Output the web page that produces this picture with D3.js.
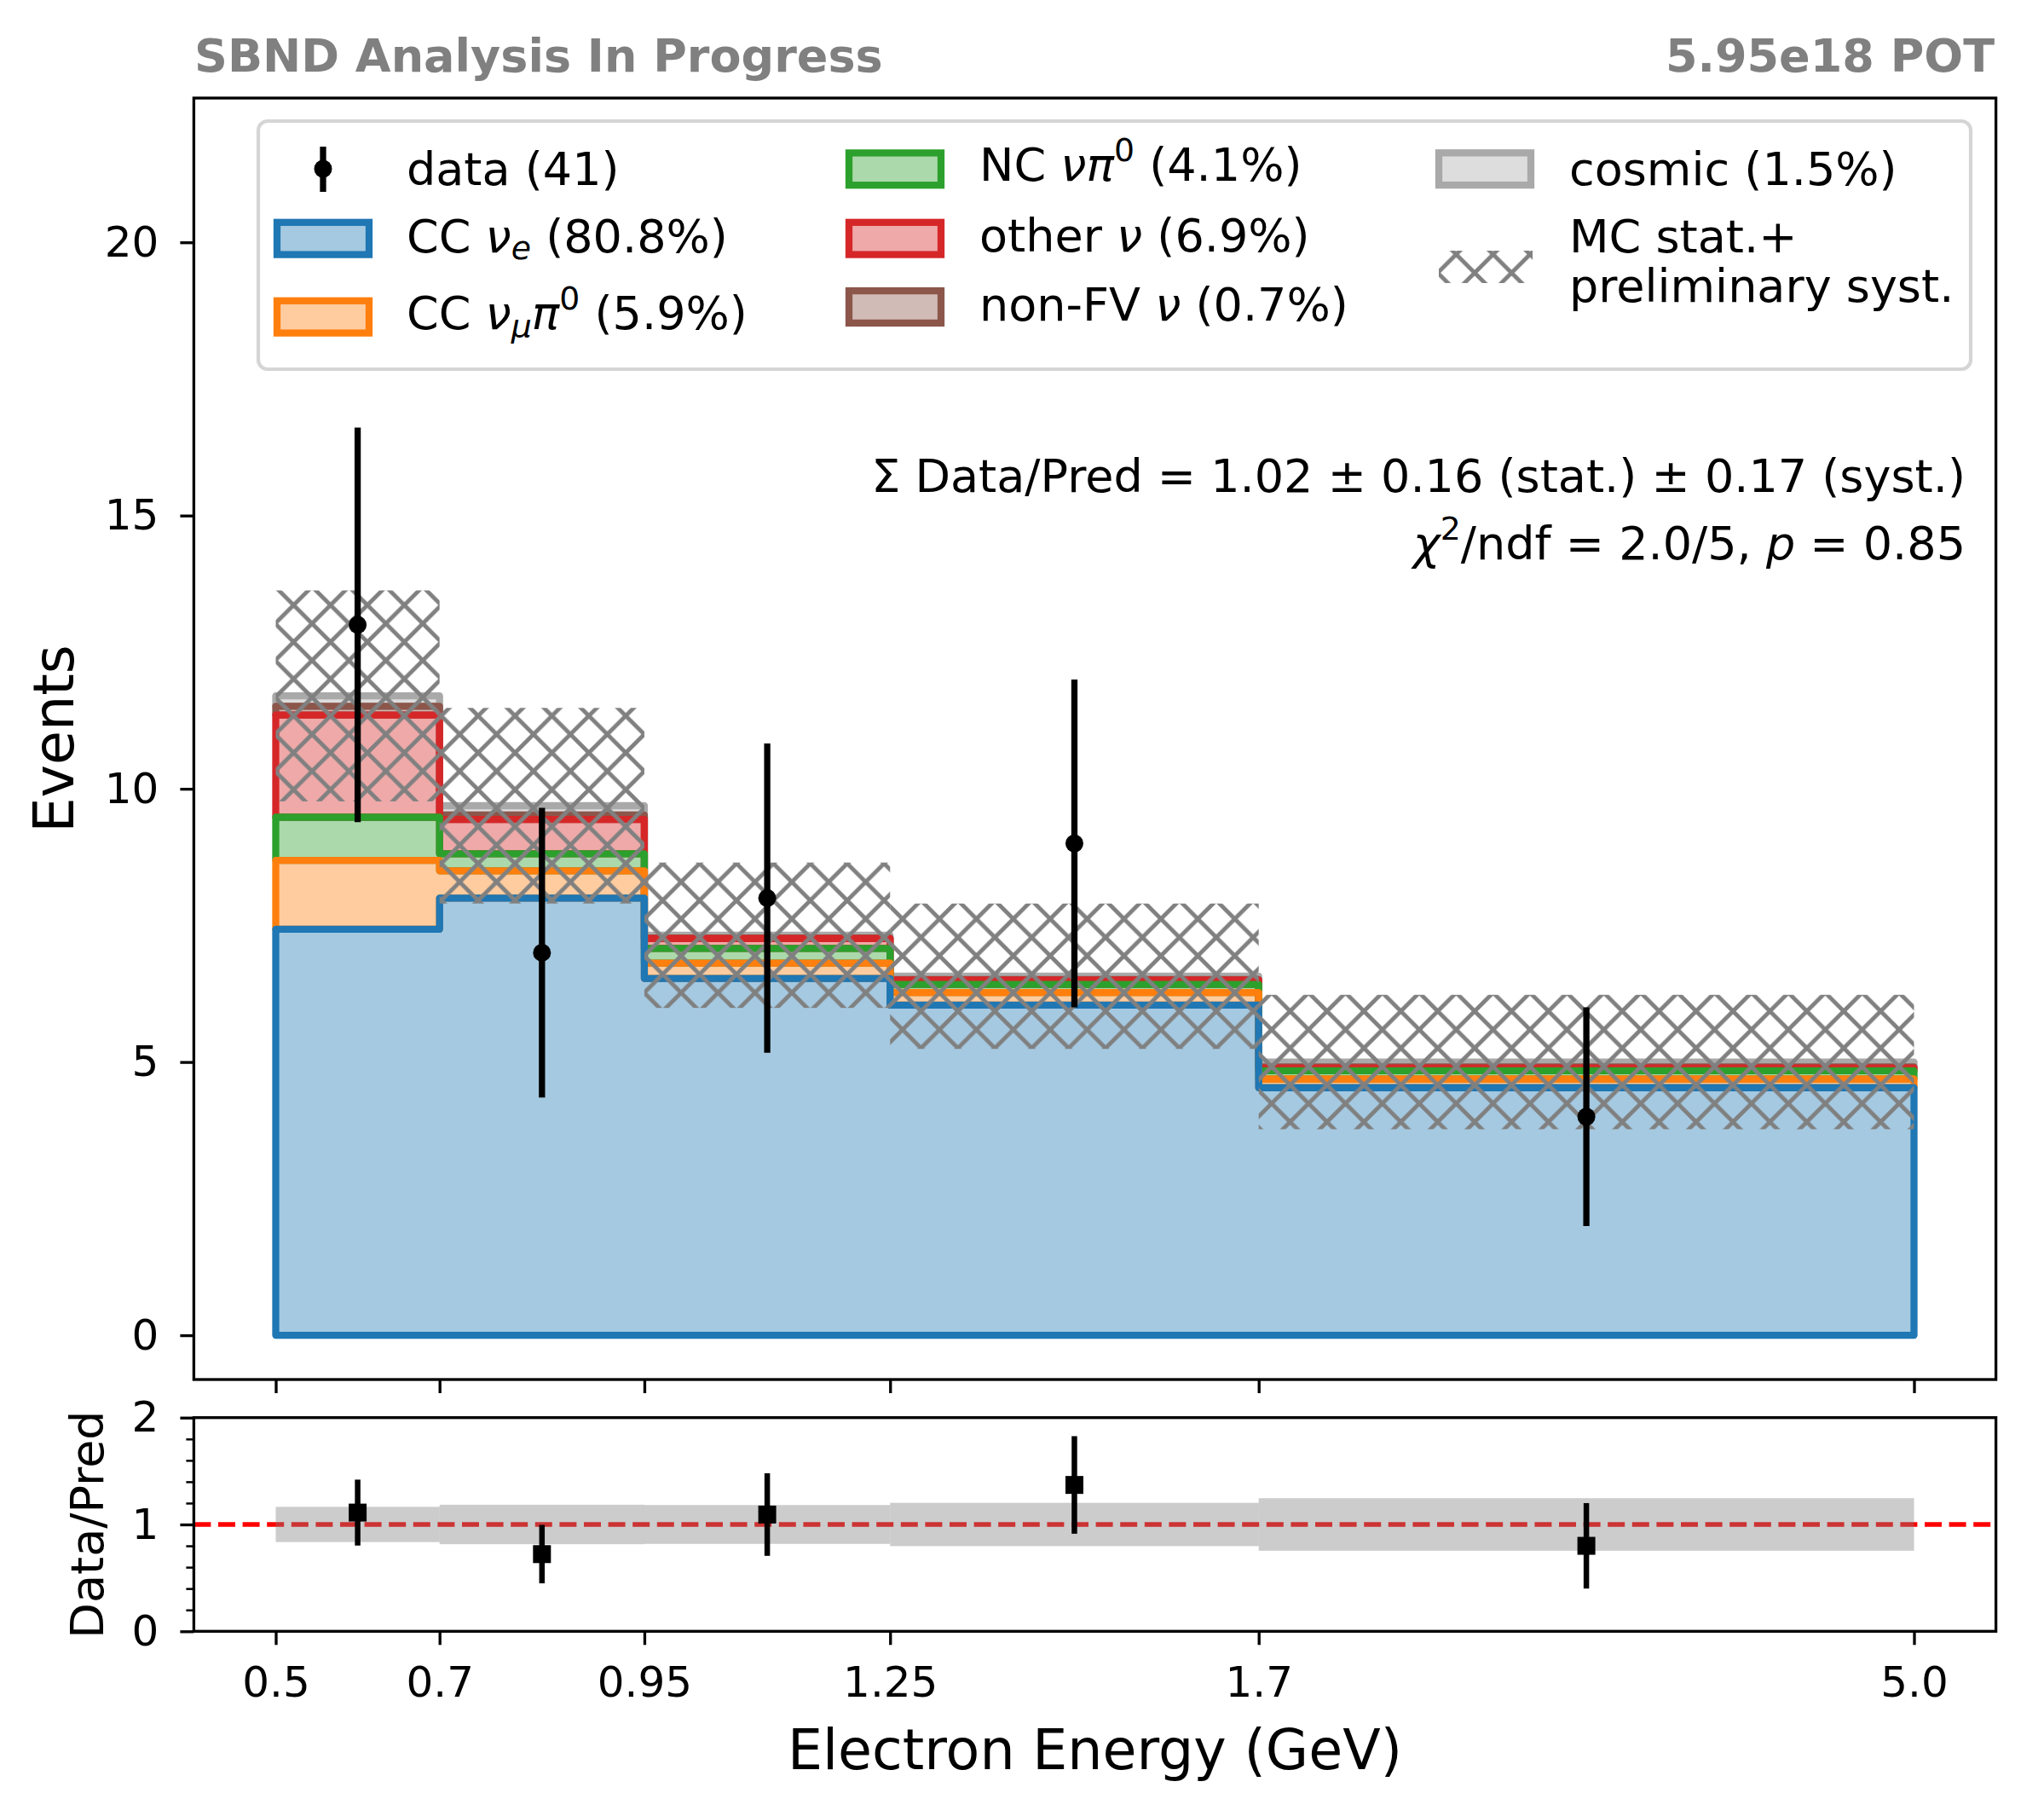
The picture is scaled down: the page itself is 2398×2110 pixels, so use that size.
<!DOCTYPE html>
<html>
<head>
<meta charset="utf-8">
<script src="https://cdn.jsdelivr.net/npm/d3@7"></script>
<style>
  body { margin: 0; background: #fff; }
  text { font-family: 'DejaVu Sans', sans-serif; white-space: pre; }
</style>
</head>
<body>
<script>
// bin edges as drawn (last bin 1.7-5.0 is compressed to 1.7-2.5 on the axis)
var binEdges = [0.5, 0.7, 0.95, 1.25, 1.7, 2.5];
var edgeLabels = ['0.5', '0.7', '0.95', '1.25', '1.7', '5.0'];

// stacked MC prediction per bin
var ccNue     = [7.43, 8.00, 6.53, 6.04, 4.53];
var ccNumuPi0 = [1.26, 0.50, 0.28, 0.23, 0.16];
var ncPi0     = [0.79, 0.31, 0.27, 0.15, 0.15];
var otherNu   = [1.87, 0.63, 0.18, 0.08, 0.05];
var nonFvNu   = [0.16, 0.08, 0.01, 0.01, 0.02];
var cosmic    = [0.19, 0.17, 0.05, 0.06, 0.09];
var mcErr     = [1.93, 1.79, 1.33, 1.33, 1.23];

var dataCounts = [13, 7, 8, 9, 4];
var dataErr    = [3.61, 2.65, 2.83, 3.00, 2.00];

var yTicks = [0, 5, 10, 15, 20];
var ratioTicks = [0, 1, 2];
var ratioMinorTicks = [0.2, 0.4, 0.6, 0.8, 1.2, 1.4, 1.6, 1.8];

var compKeys = ['ccNue', 'ccNumuPi0', 'ncPi0', 'otherNu', 'nonFvNu', 'cosmic'];
var compColors = ['#1f77b4', '#ff7f0e', '#2ca02c', '#d62728', '#8c564b', '#a9a9a9'];
var compLabels = [
  [{t: 'CC '}, {t: 'ν', it: 1}, {t: 'e', it: 1, sub: 1}, {t: ' (80.8%)'}],
  [{t: 'CC '}, {t: 'ν', it: 1}, {t: 'μ', it: 1, sub: 1}, {t: 'π', it: 1}, {t: '0', sup: 1}, {t: ' (5.9%)'}],
  [{t: 'NC '}, {t: 'νπ', it: 1}, {t: '0', sup: 1}, {t: ' (4.1%)'}],
  [{t: 'other '}, {t: 'ν', it: 1}, {t: ' (6.9%)'}],
  [{t: 'non-FV '}, {t: 'ν', it: 1}, {t: ' (0.7%)'}],
  [{t: 'cosmic (1.5%)'}]
];

var W = 2398, H = 2110;
var axL = 227.4, axR = 2341.6;
var mainTop = 115, mainBot = 1618;
var ratTop = 1662.7, ratBot = 1913.3;
var tickLen = 16, spineW = 3.33;

var svg = d3.select('body').append('svg')
    .attr('width', W)
    .attr('height', H);
svg.append('rect').attr('width', W).attr('height', H).attr('fill', '#fff');

var defs = svg.append('defs');
var P = 43.3;
var hp = defs.append('pattern')
    .attr('id', 'hatch')
    .attr('patternUnits', 'userSpaceOnUse')
    .attr('x', 1795).attr('y', 1164.35)
    .attr('width', P).attr('height', P);
var hpath = '';
[-1, 0, 1].forEach(function(k) {
  hpath += 'M' + (-P) + ',' + (-P + k * P) + 'L' + (2 * P) + ',' + (2 * P + k * P);
});
[0, 1, 2].forEach(function(k) {
  hpath += 'M' + (-P) + ',' + (P + k * P) + 'L' + (2 * P) + ',' + (-2 * P + k * P);
});
hp.append('path').attr('d', hpath)
    .attr('stroke', '#808080').attr('stroke-width', 4.8).attr('fill', 'none');

var x = d3.scaleLinear().domain([0.4, 2.6]).range([axL, axR]);
var y = d3.scaleLinear().domain([-0.81, 22.64]).range([mainBot, mainTop]);
var yr = d3.scaleLinear().domain([0, 2]).range([ratBot, ratTop]);

function richText(sel, parts, size) {
  var off = 0;
  parts.forEach(function(p) {
    var small = p.sub || p.sup;
    var target = p.sub ? size * 0.16 : (p.sup ? -size * 0.43 : 0);
    sel.append('tspan')
        .attr('dy', target - off)
        .style('font-size', (small ? size * 0.7 : size) + 'px')
        .style('font-style', p.it ? 'italic' : 'normal')
        .text(p.t);
    off = target;
  });
}

// ---- stacked histogram ----
var rows = dataCounts.map(function(d, i) {
  return {ccNue: ccNue[i], ccNumuPi0: ccNumuPi0[i], ncPi0: ncPi0[i],
          otherNu: otherNu[i], nonFvNu: nonFvNu[i], cosmic: cosmic[i]};
});
var series = d3.stack().keys(compKeys)(rows);
var total = series[series.length - 1].map(function(d) { return d[1]; });

function stepPath(s) {
  var pts = [];
  s.forEach(function(d, i) {
    pts.push([x(binEdges[i]), y(d[1])]);
    pts.push([x(binEdges[i + 1]), y(d[1])]);
  });
  for (var i = s.length - 1; i >= 0; i--) {
    pts.push([x(binEdges[i + 1]), y(s[i][0])]);
    pts.push([x(binEdges[i]), y(s[i][0])]);
  }
  return d3.line()(pts) + 'Z';
}

var main = svg.append('g');
main.selectAll('.layer')
    .data(series.slice().reverse())
  .enter().append('path')
    .attr('class', 'layer')
    .attr('d', stepPath)
    .attr('fill', function(d) { return compColors[d.index]; })
    .attr('fill-opacity', 0.4)
    .attr('stroke', function(d) { return compColors[d.index]; })
    .attr('stroke-width', 8.3)
    .attr('stroke-linejoin', 'round');

// MC uncertainty hatch
main.selectAll('.unc')
    .data(total)
  .enter().append('rect')
    .attr('class', 'unc')
    .attr('x', function(d, i) { return x(binEdges[i]); })
    .attr('width', function(d, i) { return x(binEdges[i + 1]) - x(binEdges[i]); })
    .attr('y', function(d, i) { return y(d + mcErr[i]); })
    .attr('height', function(d, i) { return y(d - mcErr[i]) - y(d + mcErr[i]); })
    .attr('fill', 'url(#hatch)');

var centers = dataCounts.map(function(d, i) { return (binEdges[i] + binEdges[i + 1]) / 2; });

main.selectAll('.err')
    .data(dataCounts)
  .enter().append('line')
    .attr('class', 'err')
    .attr('x1', function(d, i) { return x(centers[i]); })
    .attr('x2', function(d, i) { return x(centers[i]); })
    .attr('y1', function(d, i) { return y(d - dataErr[i]); })
    .attr('y2', function(d, i) { return y(d + dataErr[i]); })
    .attr('stroke', '#000').attr('stroke-width', 7.3);
main.selectAll('.pt')
    .data(dataCounts)
  .enter().append('circle')
    .attr('class', 'pt')
    .attr('cx', function(d, i) { return x(centers[i]); })
    .attr('cy', function(d) { return y(d); })
    .attr('r', 10.5)
    .attr('fill', '#000');

// main axes
var yAxis = d3.axisLeft(y).tickValues(yTicks).tickSize(tickLen).tickPadding(25);
var gy = svg.append('g').attr('transform', 'translate(' + axL + ',0)').call(yAxis);
var xAxisMain = d3.axisBottom(x).tickValues(binEdges).tickSize(tickLen).tickFormat('');
var gxm = svg.append('g').attr('transform', 'translate(0,' + mainBot + ')').call(xAxisMain);

svg.append('rect')
    .attr('x', axL).attr('y', mainTop)
    .attr('width', axR - axL).attr('height', mainBot - mainTop)
    .attr('fill', 'none').attr('stroke', '#000').attr('stroke-width', spineW);

// ---- ratio panel ----
var rat = svg.append('g');
rat.append('line')
    .attr('x1', axL).attr('x2', axR)
    .attr('y1', yr(1)).attr('y2', yr(1))
    .attr('stroke', '#ff0000').attr('stroke-width', 5.4)
    .attr('stroke-dasharray', '20,8.6');

rat.selectAll('.band')
    .data(total)
  .enter().append('rect')
    .attr('class', 'band')
    .attr('x', function(d, i) { return x(binEdges[i]); })
    .attr('width', function(d, i) { return x(binEdges[i + 1]) - x(binEdges[i]); })
    .attr('y', function(d, i) { return yr(1 + mcErr[i] / d); })
    .attr('height', function(d, i) { return yr(1 - mcErr[i] / d) - yr(1 + mcErr[i] / d); })
    .attr('fill', '#808080').attr('fill-opacity', 0.4);

var ratio = dataCounts.map(function(d, i) { return d / total[i]; });
rat.selectAll('.rerr')
    .data(ratio)
  .enter().append('line')
    .attr('class', 'rerr')
    .attr('x1', function(d, i) { return x(centers[i]); })
    .attr('x2', function(d, i) { return x(centers[i]); })
    .attr('y1', function(d, i) { return yr(d - dataErr[i] / total[i]); })
    .attr('y2', function(d, i) { return yr(d + dataErr[i] / total[i]); })
    .attr('stroke', '#000').attr('stroke-width', 6.5);
rat.selectAll('.rpt')
    .data(ratio)
  .enter().append('rect')
    .attr('class', 'rpt')
    .attr('x', function(d, i) { return x(centers[i]) - 10.5; })
    .attr('y', function(d) { return yr(d) - 10.5; })
    .attr('width', 21).attr('height', 21)
    .attr('fill', '#000');

var yrAxis = d3.axisLeft(yr).tickValues(ratioTicks).tickSize(tickLen).tickPadding(25).tickFormat(d3.format('d'));
var gyr = svg.append('g').attr('transform', 'translate(' + axL + ',0)').call(yrAxis);
var yrMinor = d3.axisLeft(yr).tickValues(ratioMinorTicks).tickSize(9).tickFormat('');
var gyrm = svg.append('g').attr('transform', 'translate(' + axL + ',0)').call(yrMinor);
var xAxis = d3.axisBottom(x).tickValues(binEdges).tickSize(tickLen).tickPadding(25)
    .tickFormat(function(d, i) { return edgeLabels[i]; });
var gx = svg.append('g').attr('transform', 'translate(0,' + ratBot + ')').call(xAxis);

svg.append('rect')
    .attr('x', axL).attr('y', ratTop)
    .attr('width', axR - axL).attr('height', ratBot - ratTop)
    .attr('fill', 'none').attr('stroke', '#000').attr('stroke-width', spineW);

[gy, gxm, gyr, gx].forEach(function(g) {
  g.select('.domain').remove();
  g.selectAll('.tick line').attr('stroke', '#000').attr('stroke-width', spineW);
  g.selectAll('.tick text').attr('fill', '#000').style('font-size', '50px')
      .style('font-family', 'DejaVu Sans');
});
gyrm.select('.domain').remove();
gyrm.selectAll('.tick line').attr('stroke', '#000').attr('stroke-width', 2.5);

// axis labels
svg.append('text')
    .attr('transform', 'translate(86,' + ((mainTop + mainBot) / 2) + ') rotate(-90)')
    .attr('text-anchor', 'middle')
    .style('font-size', '65px')
    .text('Events');
svg.append('text')
    .attr('transform', 'translate(121,' + ((ratTop + ratBot) / 2) + ') rotate(-90)')
    .attr('text-anchor', 'middle')
    .style('font-size', '54px')
    .text('Data/Pred');
svg.append('text')
    .attr('x', (axL + axR) / 2).attr('y', 2075)
    .attr('text-anchor', 'middle')
    .style('font-size', '65px')
    .text('Electron Energy (GeV)');

// header
svg.append('text')
    .attr('x', 228).attr('y', 84)
    .style('font-size', '54px').style('font-weight', 'bold').attr('fill', '#808080')
    .text('SBND Analysis In Progress');
svg.append('text')
    .attr('x', 2340).attr('y', 84)
    .attr('text-anchor', 'end')
    .style('font-size', '54px').style('font-weight', 'bold').attr('fill', '#808080')
    .text('5.95e18 POT');

// annotations
richText(svg.append('text').attr('x', 2306).attr('y', 577).attr('text-anchor', 'end'),
    [{t: 'Σ Data/Pred = 1.02 ± 0.16 (stat.) ± 0.17 (syst.)'}], 54);
richText(svg.append('text').attr('x', 2306).attr('y', 656).attr('text-anchor', 'end'),
    [{t: 'χ', it: 1}, {t: '2', sup: 1}, {t: '/ndf = 2.0/5, '}, {t: 'p', it: 1}, {t: ' = 0.85'}], 54);

// ---- legend ----
var leg = svg.append('g');
leg.append('rect')
    .attr('x', 303).attr('y', 142)
    .attr('width', 2009).attr('height', 291)
    .attr('rx', 11).attr('ry', 11)
    .attr('fill', '#fff').attr('fill-opacity', 0.8)
    .attr('stroke', '#d5d5d5').attr('stroke-width', 4.2);

var fs = 54;
// data entry
leg.append('line').attr('x1', 379).attr('x2', 379).attr('y1', 172).attr('y2', 225)
    .attr('stroke', '#000').attr('stroke-width', 7.3);
leg.append('circle').attr('cx', 379).attr('cy', 198).attr('r', 10.5).attr('fill', '#000');
richText(leg.append('text').attr('x', 477).attr('y', 217), [{t: 'data (41)'}], fs);

// component entries: column x of handle, text x, handle centre y, text baseline
var legSlots = [
  [325, 477, 279.7, 295.5],
  [325, 477, 371.7, 386],
  [996, 1149, 198.3, 212],
  [996, 1149, 279.7, 295],
  [996, 1149, 360, 376],
  [1688, 1841, 198.2, 217.3]
];
compKeys.forEach(function(k, i) {
  var s = legSlots[i];
  leg.append('rect')
      .attr('x', s[0]).attr('y', s[2] - 18.9)
      .attr('width', 108).attr('height', 37.8)
      .attr('fill', compColors[i]).attr('fill-opacity', 0.4)
      .attr('stroke', compColors[i]).attr('stroke-width', 8.3);
  richText(leg.append('text').attr('x', s[1]).attr('y', s[3]), compLabels[i], fs);
});
// uncertainty entry
leg.append('rect')
    .attr('x', 1688).attr('y', 294).attr('width', 110).attr('height', 38)
    .attr('fill', 'url(#hatch)');
richText(leg.append('text').attr('x', 1841).attr('y', 296), [{t: 'MC stat.+'}], fs);
richText(leg.append('text').attr('x', 1841).attr('y', 354), [{t: 'preliminary syst.'}], fs);
</script>
</body>
</html>
